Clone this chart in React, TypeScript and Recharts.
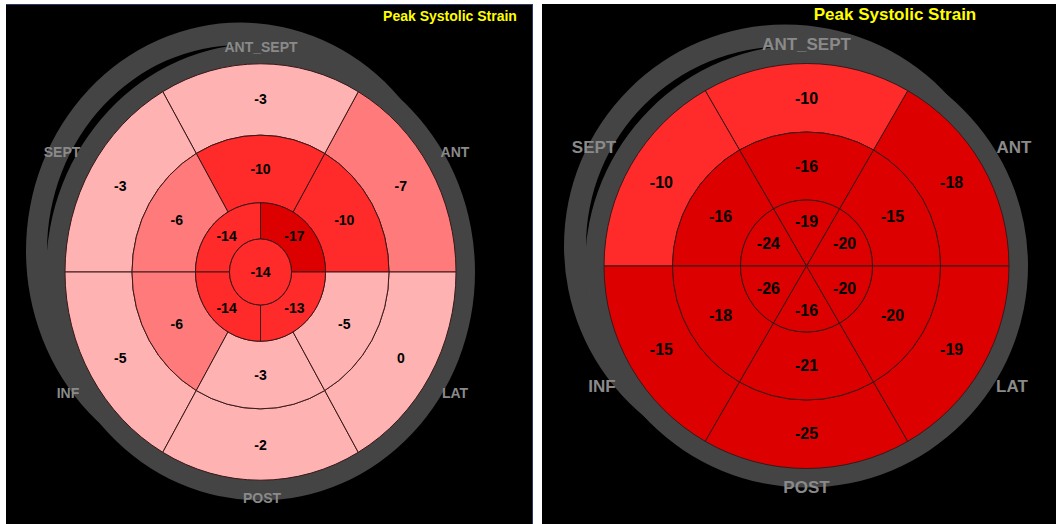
import React from "react";
import { PieChart, Pie, Cell } from "recharts";

// Segments counter-clockwise from 3 o'clock (60° each)
const segments6 = ["ANT", "ANT_SEPT", "SEPT", "INF", "POST", "LAT"];
// Apical quadrants counter-clockwise from 3 o'clock (left chart)
const quadrants4 = ["ANT", "SEPT", "INF", "LAT"];

// Left bull's-eye values
const leftBasal = [-7, -3, -3, -5, -2, 0];
const leftMid = [-10, -10, -6, -6, -3, -5];
const leftApical = [-17, -14, -14, -13];
const leftApex = [-14];

// Right bull's-eye values
const rightBasal = [-18, -10, -10, -15, -25, -19];
const rightMid = [-15, -16, -16, -18, -21, -20];
const rightApical = [-20, -19, -24, -26, -16, -20];

const wallLabels = ["ANT_SEPT", "SEPT", "ANT", "INF", "LAT", "POST"];
const titleText = "Peak Systolic Strain";

const FONT = "'Liberation Sans', Arial, Helvetica, sans-serif";
const RAD = Math.PI / 180;

function strainColor(v: number) {
  if (v >= -5) return "#FFB2B2";
  if (v > -10) return "#FF7B7B";
  if (v > -15) return "#FF2A2A";
  return "#DD0000";
}

function sectorPath(cx: number, cy: number, ri: number, ro: number, sa: number, ea: number, sy: number) {
  const pt = (r: number, a: number) => [cx + r * Math.cos(a * RAD), cy - r * Math.sin(a * RAD) * sy];
  const span = Math.abs(ea - sa);
  if (span >= 359.999) {
    let d = `M${cx + ro},${cy} A${ro},${ro * sy} 0 1 0 ${cx - ro},${cy} A${ro},${ro * sy} 0 1 0 ${cx + ro},${cy} Z`;
    if (ri > 0) {
      d += ` M${cx + ri},${cy} A${ri},${ri * sy} 0 1 0 ${cx - ri},${cy} A${ri},${ri * sy} 0 1 0 ${cx + ri},${cy} Z`;
    }
    return d;
  }
  const large = span > 180 ? 1 : 0;
  const sw = ea > sa ? 0 : 1;
  const p1 = pt(ro, sa);
  const p2 = pt(ro, ea);
  if (ri <= 0) {
    return `M${p1[0]},${p1[1]} A${ro},${ro * sy} 0 ${large} ${sw} ${p2[0]},${p2[1]} L${cx},${cy} Z`;
  }
  const p3 = pt(ri, ea);
  const p4 = pt(ri, sa);
  return `M${p1[0]},${p1[1]} A${ro},${ro * sy} 0 ${large} ${sw} ${p2[0]},${p2[1]} L${p3[0]},${p3[1]} A${ri},${ri * sy} 0 ${large} ${1 - sw} ${p4[0]},${p4[1]} Z`;
}

function makeShape(sy: number, stroke: string, strokeWidth: number) {
  return (p: any) => (
    <path
      d={sectorPath(p.cx, p.cy, p.innerRadius, p.outerRadius, p.startAngle, p.endAngle, sy)}
      fill={p.fill}
      stroke={stroke}
      strokeWidth={strokeWidth}
      fillRule="evenodd"
    />
  );
}

function makeLabel(sy: number, factor: number, fontSize: number) {
  return (p: any) => {
    const r = p.innerRadius + (p.outerRadius - p.innerRadius) * factor;
    const a = (p.midAngle || 0) * RAD;
    const x = p.cx + r * Math.cos(a);
    const y = p.cy - r * Math.sin(a) * sy;
    const v = p.payload && p.payload.strain !== undefined ? p.payload.strain : p.strain;
    return (
      <text
        x={x}
        y={y}
        textAnchor="middle"
        dominantBaseline="central"
        fontFamily={FONT}
        fontWeight="bold"
        fontSize={fontSize}
        fill="#000"
      >
        {v}
      </text>
    );
  };
}

const toRows = (names: string[], vals: number[]) => vals.map((v, i) => ({ segment: names[i], strain: v, size: 1 }));
const ringRow = [{ segment: "ring", size: 1 }];

type RingSpec = { key: string; rows: any[]; ri: number; ro: number; factor: number };
type Outline = { aIn: number; aOut: number; bIn: number; bOut: number; dx: number; dy: number };

function bullseye(prefix: string, cx: number, cy: number, sy: number, rings: RingSpec[], o: Outline, fs: number) {
  const grayShape = makeShape(sy, "none", 0);
  const segShape = makeShape(sy, "#3a1818", 1);
  const out: any[] = [];
  out.push(
    <Pie key={prefix + "ringB"} data={ringRow} dataKey="size" cx={cx + o.dx} cy={cy + o.dy} innerRadius={o.bIn} outerRadius={o.bOut}
      startAngle={0} endAngle={360} isAnimationActive={false} stroke="none" fill="#444444"
      shape={grayShape} activeShape={grayShape} inactiveShape={grayShape} />
  );
  out.push(
    <Pie key={prefix + "ringA"} data={ringRow} dataKey="size" cx={cx} cy={cy} innerRadius={o.aIn} outerRadius={o.aOut}
      startAngle={0} endAngle={360} isAnimationActive={false} stroke="none" fill="#444444"
      shape={grayShape} activeShape={grayShape} inactiveShape={grayShape} />
  );
  rings.forEach((r) => {
    out.push(
      <Pie key={prefix + r.key} data={r.rows} dataKey="size" cx={cx} cy={cy} innerRadius={r.ri} outerRadius={r.ro}
        startAngle={0} endAngle={360} isAnimationActive={false} stroke="#3a1818"
        shape={segShape} activeShape={segShape} inactiveShape={segShape}
        label={makeLabel(sy, r.factor, fs)} labelLine={false}>
        {r.rows.map((row: any, i: number) => (
          <Cell key={i} fill={strainColor(row.strain)} />
        ))}
      </Pie>
    );
  });
  return out;
}

const leftRings: RingSpec[] = [
  { key: "basal", rows: toRows(segments6, leftBasal), ri: 128.5, ro: 195.5, factor: 0.5 },
  { key: "mid", rows: toRows(segments6, leftMid), ri: 65, ro: 128.5, factor: 0.5 },
  { key: "apical", rows: toRows(quadrants4, leftApical), ri: 31, ro: 65, factor: 0.5 },
  { key: "apex", rows: toRows(["APEX"], leftApex), ri: 0, ro: 31, factor: 0 },
];

const rightRings: RingSpec[] = [
  { key: "basal", rows: toRows(segments6, rightBasal), ri: 134, ro: 202.5, factor: 0.49 },
  { key: "mid", rows: toRows(segments6, rightMid), ri: 66, ro: 134, factor: 0.49 },
  { key: "apical", rows: toRows(segments6, rightApical), ri: 0, ro: 66, factor: 0.667 },
];

const leftOutline: Outline = { aIn: 194.5, aOut: 214.5, bIn: 193.5, bOut: 214.5, dx: -20, dy: -21 };
const rightOutline: Outline = { aIn: 201.5, aOut: 221.5, bIn: 199.5, bOut: 221.5, dx: -21, dy: -20 };

const leftWallPos = [[261, 47], [62, 152], [455, 152], [68, 393], [455, 393], [262, 498]];
const rightWallPos = [[806.5, 44], [594, 147], [1014, 147], [602, 386], [1012, 386], [806.5, 487]];

function TextAt({ x, y, fs, color, children }: any) {
  return (
    <div
      style={{
        position: "absolute",
        left: x,
        top: y,
        transform: "translate(-50%, -50%)",
        fontFamily: FONT,
        fontWeight: "bold",
        fontSize: fs,
        lineHeight: `${fs}px`,
        color,
        whiteSpace: "nowrap",
      }}
    >
      {children}
    </div>
  );
}

export default function App() {
  return (
    <div style={{ position: "absolute", left: 0, top: 0, width: 1056, height: 524, background: "#ffffff", overflow: "hidden" }}>
      <div style={{ position: "absolute", left: 6, top: 4, width: 526, height: 520, background: "#000", borderTop: "1px solid #2a3868", borderRight: "1px solid #2a3868" }} />
      <div style={{ position: "absolute", left: 542, top: 4, width: 514, height: 520, background: "#000" }} />
      <div style={{ position: "absolute", left: 0, top: 0 }}>
        <PieChart width={1056} height={524} margin={{ top: 0, right: 0, bottom: 0, left: 0 }}>
          {bullseye("L", 260.5, 272, 1.065, leftRings, leftOutline, 14)}
          {bullseye("R", 806.5, 266, 1, rightRings, rightOutline, 16)}
        </PieChart>
      </div>
      {wallLabels.map((w, i) => (
        <TextAt key={"lw" + i} x={leftWallPos[i][0]} y={leftWallPos[i][1]} fs={14} color="#8a8a8a">{w}</TextAt>
      ))}
      {wallLabels.map((w, i) => (
        <TextAt key={"rw" + i} x={rightWallPos[i][0]} y={rightWallPos[i][1]} fs={17} color="#8a8a8a">{w}</TextAt>
      ))}
      <TextAt x={450} y={16} fs={14} color="#FFFF00">{titleText}</TextAt>
      <TextAt x={895} y={14} fs={17} color="#FFFF00">{titleText}</TextAt>
    </div>
  );
}
